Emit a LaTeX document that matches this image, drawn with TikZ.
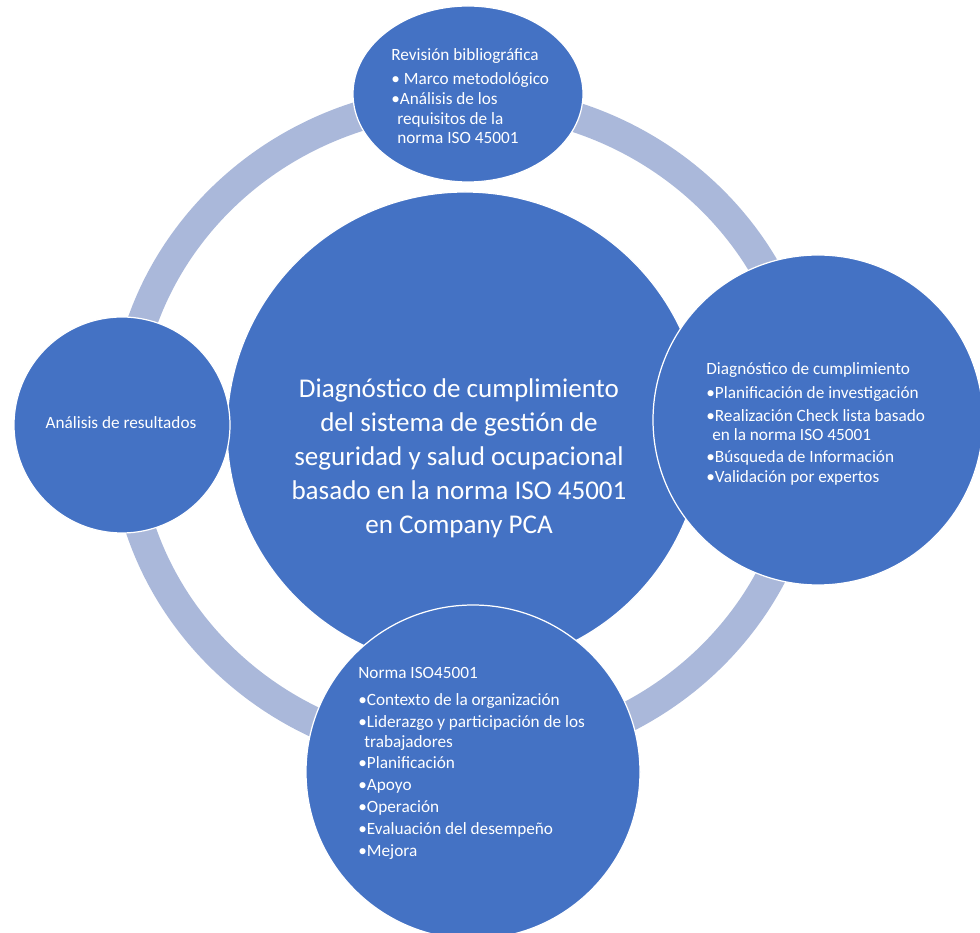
\documentclass[tikz,border=0pt]{standalone}
\usepackage{fontspec}
\setmainfont{Carlito}
\definecolor{bubbleblue}{RGB}{68,114,196}
\definecolor{ringgray}{RGB}{170,184,218}
\tikzset{
	bubble/.style={draw=white, fill=bubbleblue, line width=0.7pt},
	smalltxt/.style={text=white, align=left, inner sep=0pt, font=\fontsize{9.8}{11}\selectfont},
	bigtxt/.style={text=white, align=center, inner sep=0pt, font=\fontsize{15.4}{19.3}\selectfont}
}
\begin{document}
\begin{tikzpicture}[x=0.2mm, y=0.2mm, line join=round, line cap=round]
			\def\xmax{980} \def\ymax{932}
			\useasboundingbox (0,0) rectangle (\xmax,\ymax);
			\clip (0,0) rectangle (\xmax,\ymax);
			% anillo
			\draw[ringgray, line width=6mm] (466,504) ellipse [x radius=342, y radius=328];
			% circulos
			\draw[bubble] (465,502) circle [radius=238];
			\draw[bubble] (468,838) ellipse [x radius=115, y radius=88];
			\draw[bubble] (122,507) circle [radius=108];
			\draw[bubble] (818,512) circle [radius=165];
			\draw[bubble] (473,160) circle [radius=167];
			% textos
			\node[bigtxt] (tema) at (459,474) {Diagnóstico de cumplimiento\\ del sistema de gestión de\\ seguridad y salud ocupacional\\ basado en la norma ISO 45001\\ en Company PCA};
			\node[smalltxt] (analisis) at (121,509) {Análisis de resultados};
			\node[smalltxt, anchor=north west] (revision) at (391,884) {Revisión bibliográfica\\[3pt]
				• Marco metodológico\\[0.4pt]
				•Análisis de los\\
				\hspace*{3.4pt}requisitos de la\\
				\hspace*{3.4pt}norma ISO 45001};
			\node[smalltxt, anchor=north west] (diagnostico) at (706,570) {Diagnóstico de cumplimiento\\[3pt]
				•Planificación de investigación\\[1.6pt]
				•Realización Check lista basado\\
				\hspace*{3.4pt}en la norma ISO 45001\\[1.6pt]
				•Búsqueda de Información\\[0.6pt]
				•Validación por expertos};
			\node[smalltxt, anchor=north west] (norma) at (358,265) {Norma ISO45001\\[4.6pt]
				•Contexto de la organización\\[1.4pt]
				•Liderazgo y participación de los\\
				\hspace*{3.4pt}trabajadores\\[1.4pt]
				•Planificación\\[1.4pt]
				•Apoyo\\[1.4pt]
				•Operación\\[1.4pt]
				•Evaluación del desempeño\\[1.4pt]
				•Mejora};
		\end{tikzpicture}
\end{document}
